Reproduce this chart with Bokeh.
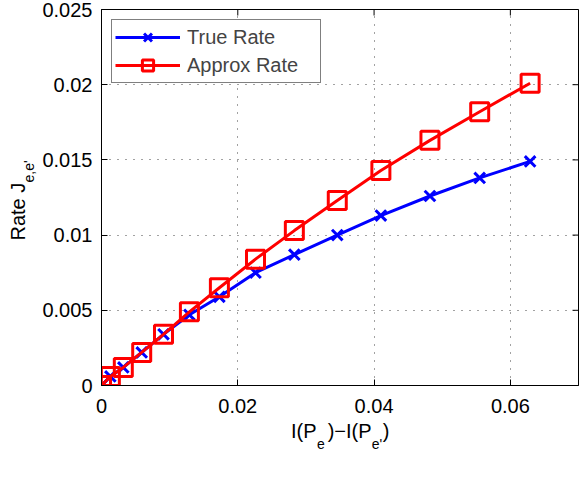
import math
from bokeh.plotting import figure
from bokeh.models import FixedTicker, Label, Range1d
from bokeh.embed import file_html
from bokeh.resources import INLINE

# ---- data ----
x_vals = [0.0, 0.0013, 0.0032, 0.0059, 0.0091, 0.0129, 0.0173, 0.0226,
          0.0283, 0.0346, 0.0410, 0.0482, 0.0555, 0.0629]
true_rate = [0.0, 0.0006, 0.0012, 0.0022, 0.0034, 0.0047, 0.0059, 0.0075,
             0.0087, 0.0100, 0.0113, 0.0126, 0.0138, 0.0149]
approx_rate = [0.0, 0.0006, 0.0012, 0.0022, 0.0034, 0.0049, 0.0065, 0.0084,
               0.0103, 0.0123, 0.0143, 0.0163, 0.0182, 0.0201]
series_names = ["True Rate", "Approx Rate"]
x_ticks = [0, 0.02, 0.04, 0.06]
x_tick_labels = ["0", "0.02", "0.04", "0.06"]
y_ticks = [0, 0.005, 0.01, 0.015, 0.02, 0.025]
y_tick_labels = ["0", "0.005", "0.01", "0.015", "0.02", "0.025"]
x_min, x_max = 0, 0.07
y_min, y_max = 0, 0.025
NB = "\u00a0"
x_label_main = "I(P" + NB * 2 + ")\u2212I(P" + NB * 2 + ")"
x_label_subs = ["e", "e'"]
y_label_parts = ["Rate J", "e,e'"]

FONT = "Liberation Sans"

p = figure(width=582, height=482, x_range=Range1d(x_min, x_max), y_range=Range1d(y_min, y_max),
           output_backend="svg", toolbar_location=None,
           min_border_left=101, min_border_right=4, min_border_top=9, min_border_bottom=97)

p.outline_line_color = "black"
p.outline_line_width = 1
p.background_fill_color = "white"

for ax, ticks, labels in ((p.xaxis[0], x_ticks, x_tick_labels), (p.yaxis[0], y_ticks, y_tick_labels)):
    ax.ticker = FixedTicker(ticks=ticks)
    ax.major_label_overrides = {t: l for t, l in zip(ticks, labels)}
    ax.major_label_text_font = FONT
    ax.major_label_text_font_size = "20px"
    ax.major_label_text_color = "black"
    ax.major_tick_in = 6
    ax.major_tick_out = 0
    ax.minor_tick_line_color = None
    ax.axis_line_color = "black"
    ax.major_tick_line_color = "black"
p.xaxis[0].major_label_standoff = 13
p.yaxis[0].major_label_standoff = 9

p.xgrid.ticker = FixedTicker(ticks=x_ticks)
p.ygrid.ticker = FixedTicker(ticks=y_ticks)
for g in (p.xgrid[0], p.ygrid[0]):
    g.grid_line_color = "#444444"
    g.grid_line_dash = "1 7"
    g.grid_line_width = 1

# inward tick marks on the top and right edges of the box (half of each dash is clipped away)
p.scatter(x_ticks, [y_max] * len(x_ticks), marker="dash", angle=math.pi / 2, size=12,
          line_color="black", line_width=1)
p.scatter([x_max] * len(y_ticks), y_ticks, marker="dash", size=12,
          line_color="black", line_width=1)

# ---- series ----
p.line(x_vals, true_rate, line_color="#0000ff", line_width=3, legend_label=series_names[0])
p.scatter(x_vals, true_rate, marker="x", size=15, line_color="#0000ff", line_width=3,
          legend_label=series_names[0])
p.line(x_vals, approx_rate, line_color="#ff0000", line_width=3, legend_label=series_names[1])
p.scatter(x_vals, approx_rate, marker="square", size=18, line_color="#ff0000", line_width=3,
          fill_color=None, legend_label=series_names[1])

leg = p.legend[0]
leg.location = "top_left"
leg.margin = 10
leg.padding = 3
leg.spacing = -1
leg.glyph_width = 65
leg.glyph_height = 28
leg.label_standoff = 7
leg.label_width = 130
leg.label_text_font = FONT
leg.label_text_font_size = "20px"
leg.border_line_color = "black"
leg.border_line_width = 1
leg.background_fill_alpha = 1

# ---- axis labels with subscripts (placed in the side panels so they are not clipped) ----
xmid = (x_min + x_max) / 2
p.add_layout(Label(x=xmid, y=y_min, x_offset=-49, y_offset=-45, text=x_label_main,
                   text_font=FONT, text_font_size="20px", text_align="left",
                   text_baseline="alphabetic", text_color="black"), "below")
for txt, xo in zip(x_label_subs, [-23, 31.7]):
    p.add_layout(Label(x=xmid, y=y_min, x_offset=xo, y_offset=-58, text=txt,
                       text_font=FONT, text_font_size="14px", text_align="left",
                       text_baseline="alphabetic", text_color="black"), "below")

ymid = (y_min + y_max) / 2
p.add_layout(Label(x=x_min, y=ymid, x_offset=-84, y_offset=-43, text=y_label_parts[0],
                   angle=math.pi / 2, text_font=FONT, text_font_size="20px", text_align="left",
                   text_baseline="alphabetic", text_color="black"), "left")
p.add_layout(Label(x=x_min, y=ymid, x_offset=-73, y_offset=15, text=y_label_parts[1],
                   angle=math.pi / 2, text_font=FONT, text_font_size="14px", text_align="left",
                   text_baseline="alphabetic", text_color="black"), "left")

open("out.html", "w").write(file_html(p, INLINE))
